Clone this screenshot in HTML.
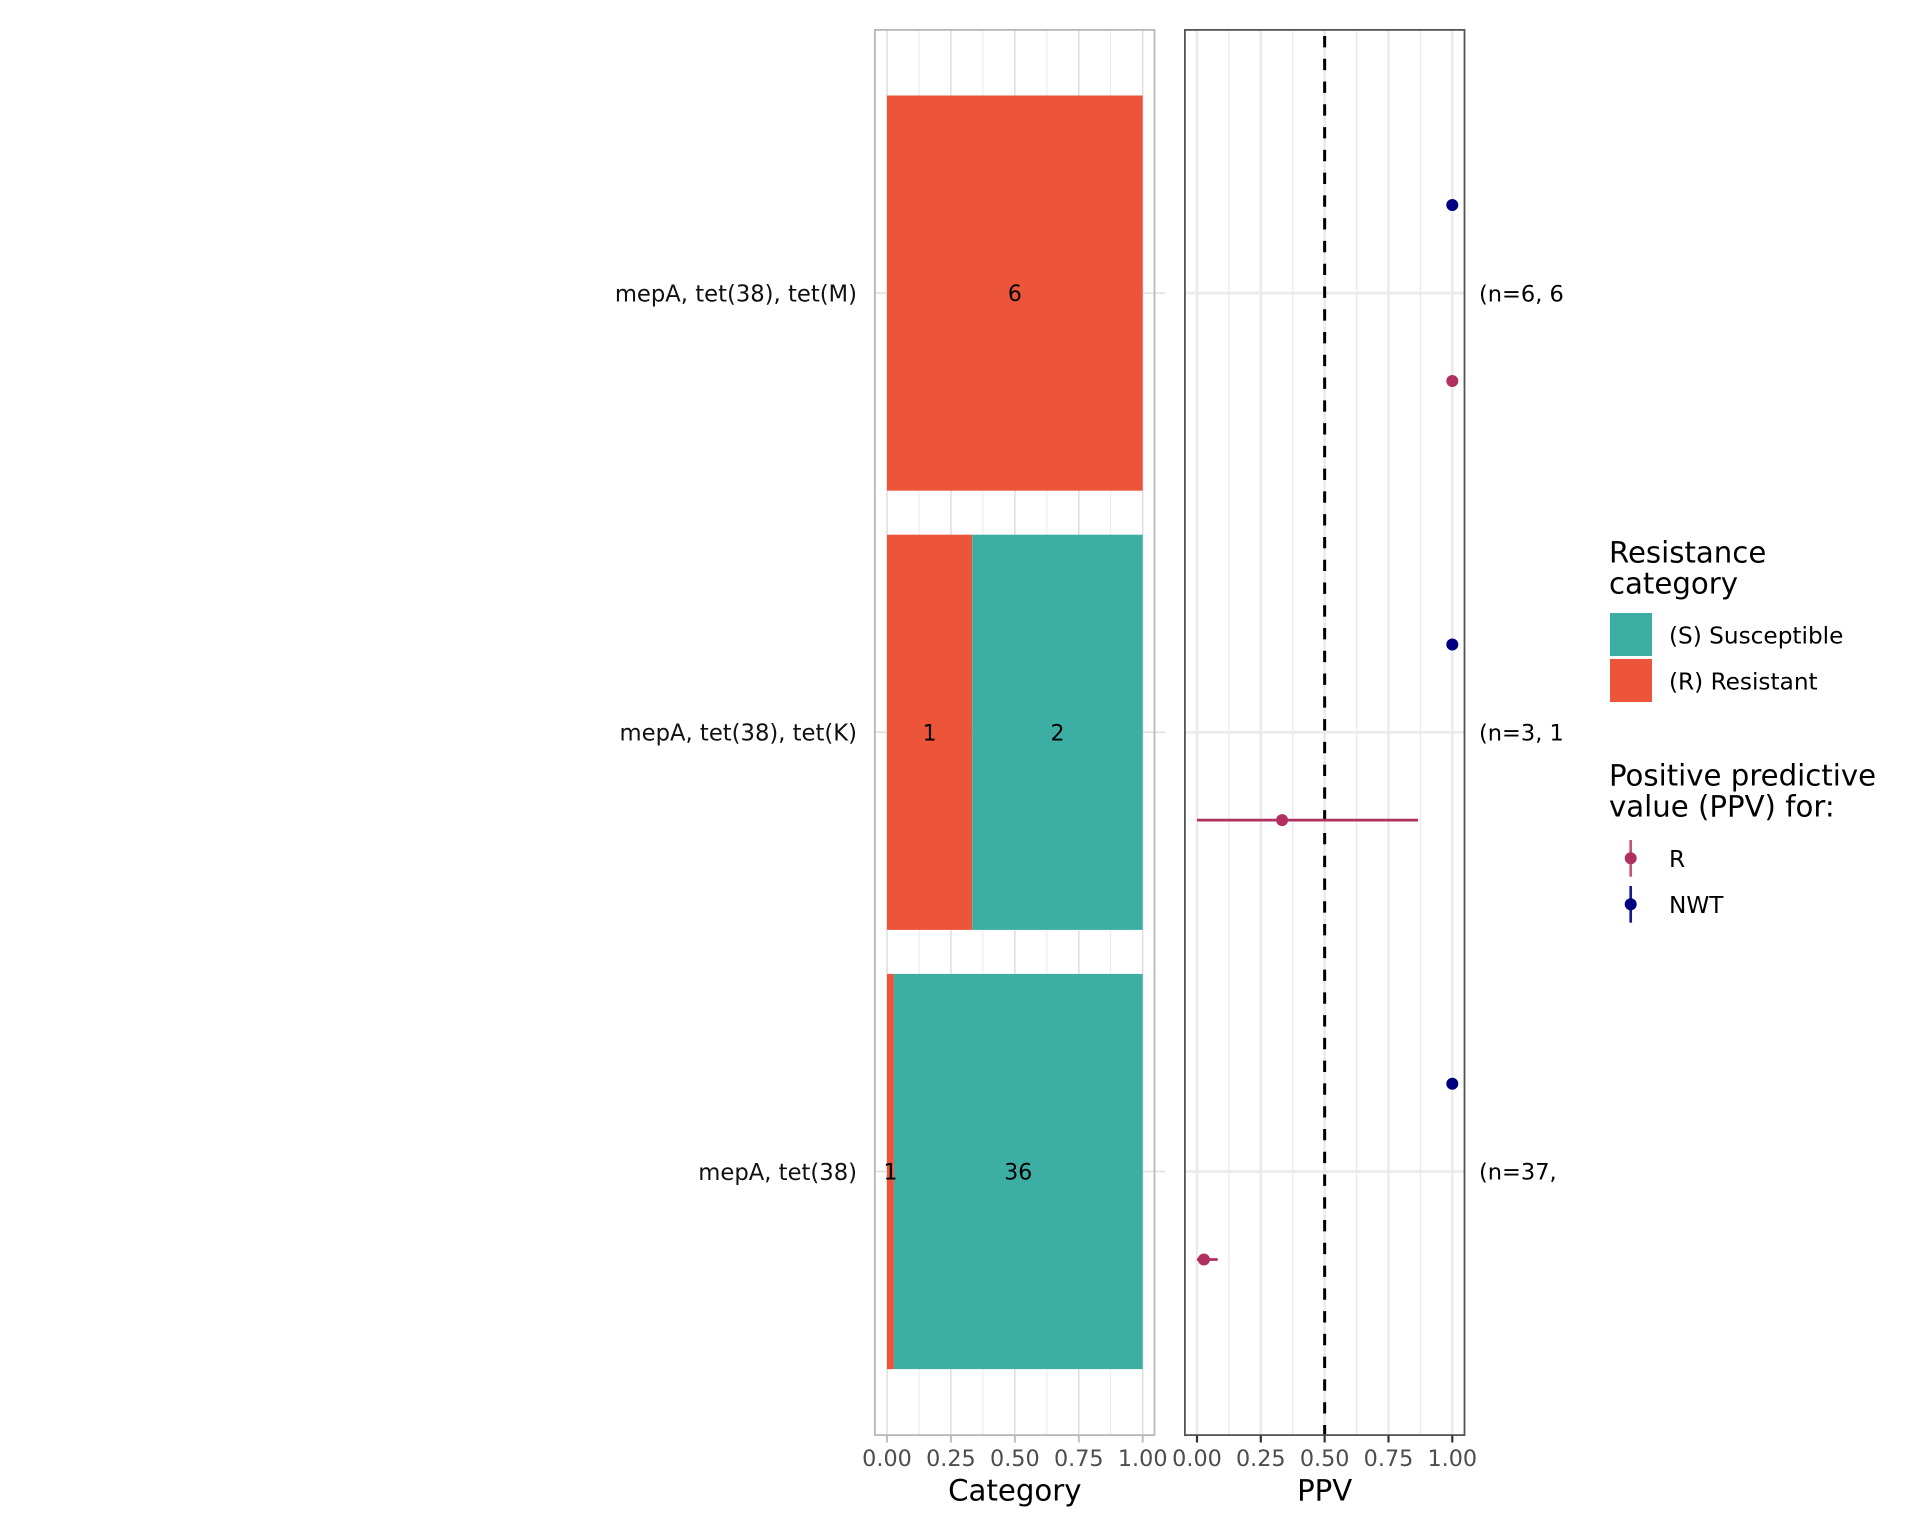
<!DOCTYPE html>
<html>
<head>
<meta charset="utf-8">
<style>
  html,body{margin:0;padding:0;background:#ffffff;}
  svg{display:block;}
  text{font-family:"DejaVu Sans","Liberation Sans",sans-serif;}
</style>
</head>
<body>
<svg width="1920" height="1536" viewBox="0 0 1920 1536" xmlns="http://www.w3.org/2000/svg">
  <rect x="0" y="0" width="1920" height="1536" fill="#ffffff"/>

  <!-- ============ LEFT PANEL (Category) ============ -->
  <g stroke="#E6E6E6" stroke-width="0.9">
    <line x1="919" y1="30" x2="919" y2="1435"/>
    <line x1="982.9" y1="30" x2="982.9" y2="1435"/>
    <line x1="1046.8" y1="30" x2="1046.8" y2="1435"/>
    <line x1="1110.7" y1="30" x2="1110.7" y2="1435"/>
  </g>
  <g stroke="#DEDEDE" stroke-width="1.5">
    <line x1="887" y1="30" x2="887" y2="1435"/>
    <line x1="950.9" y1="30" x2="950.9" y2="1435"/>
    <line x1="1014.85" y1="30" x2="1014.85" y2="1435"/>
    <line x1="1078.8" y1="30" x2="1078.8" y2="1435"/>
    <line x1="1142.7" y1="30" x2="1142.7" y2="1435"/>
    <line x1="875" y1="293.1" x2="1154.5" y2="293.1"/>
    <line x1="875" y1="732.3" x2="1154.5" y2="732.3"/>
    <line x1="875" y1="1171.5" x2="1154.5" y2="1171.5"/>
  </g>
  <g stroke="#DEDEDE" stroke-width="1.5">
    <line x1="1155" y1="293.1" x2="1165" y2="293.1"/>
    <line x1="1155" y1="732.3" x2="1165" y2="732.3"/>
    <line x1="1155" y1="1171.5" x2="1165" y2="1171.5"/>
  </g>

  <!-- bars -->
  <rect x="887" y="95.5" width="255.7" height="395.2" fill="#ED553B"/>
  <rect x="887" y="534.7" width="85.2" height="395.2" fill="#ED553B"/>
  <rect x="972.2" y="534.7" width="170.5" height="395.2" fill="#3CAEA3"/>
  <rect x="887" y="973.9" width="6.9" height="395.2" fill="#ED553B"/>
  <rect x="893.9" y="973.9" width="248.8" height="395.2" fill="#3CAEA3"/>

  <g font-size="22" fill="#000" text-anchor="middle">
    <text x="1014.85" y="301.1">6</text>
    <text x="929.6" y="740.3">1</text>
    <text x="1057.5" y="740.3">2</text>
    <text x="890.5" y="1179.5">1</text>
    <text x="1018.3" y="1179.5">36</text>
  </g>

  <rect x="874.9" y="29.9" width="279.6" height="1405.2" fill="none" stroke="#B8B8B8" stroke-width="1.8"/>
  <g stroke="#B8B8B8" stroke-width="1.8">
    <line x1="887" y1="1435.5" x2="887" y2="1442.5"/>
    <line x1="950.9" y1="1435.5" x2="950.9" y2="1442.5"/>
    <line x1="1014.85" y1="1435.5" x2="1014.85" y2="1442.5"/>
    <line x1="1078.8" y1="1435.5" x2="1078.8" y2="1442.5"/>
    <line x1="1142.7" y1="1435.5" x2="1142.7" y2="1442.5"/>
  </g>
  <g font-size="22.3" fill="#4D4D4D" text-anchor="middle">
    <text x="887" y="1466">0.00</text>
    <text x="950.9" y="1466">0.25</text>
    <text x="1014.85" y="1466">0.50</text>
    <text x="1078.8" y="1466">0.75</text>
    <text x="1142.7" y="1466">1.00</text>
  </g>
  <text x="1014.85" y="1500.5" font-size="29.2" fill="#000" text-anchor="middle">Category</text>

  <g font-size="22.7" fill="#111" text-anchor="end">
    <text x="857" y="301.4">mepA, tet(38), tet(M)</text>
    <text x="857" y="740.6">mepA, tet(38), tet(K)</text>
    <text x="857" y="1179.8">mepA, tet(38)</text>
  </g>

  <!-- ============ RIGHT PANEL (PPV) ============ -->
  <g stroke="#EBEBEB" stroke-width="1.4">
    <line x1="1229" y1="30" x2="1229" y2="1435"/>
    <line x1="1292.7" y1="30" x2="1292.7" y2="1435"/>
    <line x1="1356.6" y1="30" x2="1356.6" y2="1435"/>
    <line x1="1420.4" y1="30" x2="1420.4" y2="1435"/>
  </g>
  <g stroke="#EBEBEB" stroke-width="2.7">
    <line x1="1197" y1="30" x2="1197" y2="1435"/>
    <line x1="1260.8" y1="30" x2="1260.8" y2="1435"/>
    <line x1="1324.65" y1="30" x2="1324.65" y2="1435"/>
    <line x1="1388.5" y1="30" x2="1388.5" y2="1435"/>
    <line x1="1452.3" y1="30" x2="1452.3" y2="1435"/>
    <line x1="1185" y1="293.1" x2="1464.5" y2="293.1"/>
    <line x1="1185" y1="732.3" x2="1464.5" y2="732.3"/>
    <line x1="1185" y1="1171.5" x2="1464.5" y2="1171.5"/>
  </g>

  <line x1="1324.65" y1="36" x2="1324.65" y2="1435" stroke="#000" stroke-width="3" stroke-dasharray="11.35 11.42"/>

  <g stroke="#B03060" stroke-width="2.7">
    <line x1="1197" y1="820.1" x2="1418" y2="820.1"/>
    <line x1="1197" y1="1259.5" x2="1217.7" y2="1259.5"/>
  </g>
  <g fill="#000080">
    <circle cx="1452.3" cy="205" r="6"/>
    <circle cx="1452.3" cy="644.5" r="6"/>
    <circle cx="1452.3" cy="1083.7" r="6"/>
  </g>
  <g fill="#B03060">
    <circle cx="1452.3" cy="381" r="6"/>
    <circle cx="1282.1" cy="820.1" r="6"/>
    <circle cx="1203.9" cy="1259.5" r="6"/>
  </g>

  <rect x="1184.9" y="29.9" width="279.6" height="1405.2" fill="none" stroke="#555555" stroke-width="1.8"/>
  <g stroke="#333333" stroke-width="2.2">
    <line x1="1197" y1="1435.5" x2="1197" y2="1442.5"/>
    <line x1="1260.8" y1="1435.5" x2="1260.8" y2="1442.5"/>
    <line x1="1324.65" y1="1435.5" x2="1324.65" y2="1442.5"/>
    <line x1="1388.5" y1="1435.5" x2="1388.5" y2="1442.5"/>
    <line x1="1452.3" y1="1435.5" x2="1452.3" y2="1442.5"/>
  </g>
  <g font-size="22.3" fill="#4D4D4D" text-anchor="middle">
    <text x="1197" y="1466">0.00</text>
    <text x="1260.8" y="1466">0.25</text>
    <text x="1324.65" y="1466">0.50</text>
    <text x="1388.5" y="1466">0.75</text>
    <text x="1452.3" y="1466">1.00</text>
  </g>
  <text x="1324.65" y="1500.5" font-size="29.2" fill="#000" text-anchor="middle">PPV</text>

  <g font-size="22.5" fill="#000">
    <text x="1479" y="301.3">(n=6, 6</text>
    <text x="1479" y="740.5">(n=3, 1</text>
    <text x="1479" y="1179.7">(n=37,</text>
  </g>

  <!-- ============ LEGEND ============ -->
  <g font-size="29.2" fill="#000">
    <text x="1609" y="562.3">Resistance</text>
    <text x="1609" y="593.3">category</text>
  </g>
  <rect x="1610" y="613" width="42" height="43" fill="#3CAEA3"/>
  <rect x="1610" y="659" width="42" height="43" fill="#ED553B"/>
  <g font-size="23.2" fill="#000">
    <text x="1669" y="643.5">(S) Susceptible</text>
    <text x="1669" y="689.5">(R) Resistant</text>
  </g>

  <g font-size="29.2" fill="#000">
    <text x="1609" y="785.7">Positive predictive</text>
    <text x="1609" y="816.7">value (PPV) for:</text>
  </g>
  <line x1="1630.7" y1="840" x2="1630.7" y2="876.7" stroke="#C0587E" stroke-width="2.7"/>
  <circle cx="1630.7" cy="858.3" r="6" fill="#B03060"/>
  <line x1="1630.7" y1="886" x2="1630.7" y2="922.7" stroke="#1A1A8C" stroke-width="2.7"/>
  <circle cx="1630.7" cy="904.3" r="6" fill="#000080"/>
  <g font-size="23.2" fill="#000">
    <text x="1669" y="866.9">R</text>
    <text x="1669" y="912.9">NWT</text>
  </g>
</svg>
</body>
</html>
